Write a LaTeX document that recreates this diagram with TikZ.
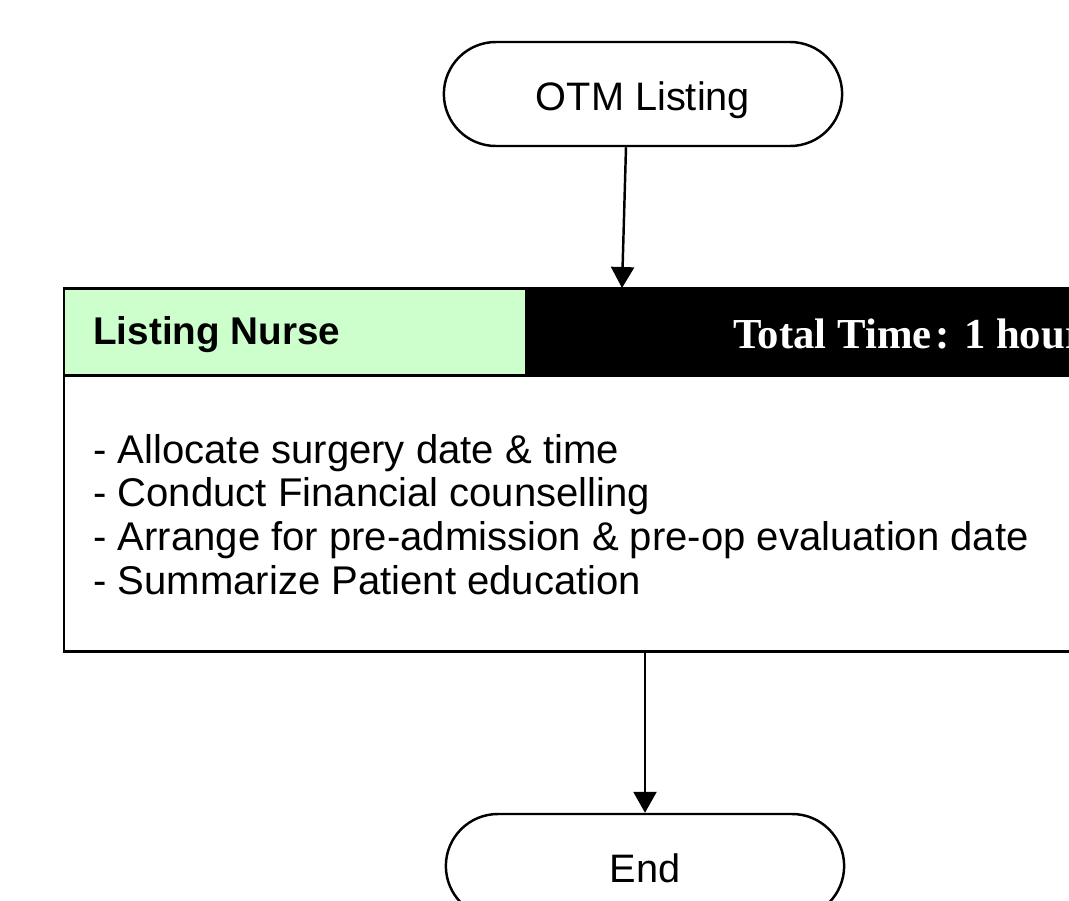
\documentclass[tikz,border=0pt]{standalone}
\usepackage{fontspec}
\setmainfont{Liberation Sans}
\newfontfamily\timesfont{Liberation Serif}
\usetikzlibrary{shapes.misc,arrows.meta}
\definecolor{nursegreen}{HTML}{CCFFCC}

\tikzset{
    terminal/.style={draw, line width=1.4pt, shape=rounded rectangle, minimum width=8.2cm, minimum height=2.08cm, text height=0.8cm, text depth=0.15cm, font=\fontsize{22.6}{26}\selectfont},
    flow/.style={line width=1.4pt, -{Triangle[length=0.42cm, width=0.46cm]}}
}

\begin{document}
\begin{tikzpicture}
    \def\boxL{1.28}
    \def\boxR{23}
    \def\boxT{-5.76}
    \def\headB{-7.5}
    \def\boxB{-13.02}
    \def\splitX{10.5}

    \useasboundingbox (0,0) rectangle (21.38,-18);
    \clip (0,0) rectangle (21.38,-18);

    % header cells
    \fill[nursegreen] (\boxL,\boxT) rectangle (\splitX,\headB);
    \fill[black] (\splitX,\boxT) rectangle (\boxR,\headB);
    \draw[line width=1.7pt] (\boxL,\boxT) coordinate (A) -- (\boxR,\boxT) -- (\boxR,\boxB) -- (\boxL,\boxB) coordinate (D) -- cycle;
    \draw[line width=1.7pt] (\boxL,\headB) -- (\boxR,\headB);

    \coordinate (hd) at (12.44,\boxT);
    \coordinate (ft) at (12.9,\boxB);

    \node (role) at (1.86,-6.7) [anchor=west, inner sep=0pt, font=\fontsize{22}{26}\selectfont\bfseries] {Listing Nurse};
    \node (time) at (14.66,-6.68) [anchor=west, inner sep=0pt, text=white, font=\fontsize{24.3}{26}\selectfont\timesfont\bfseries] {Total Time\hspace{0.1em}: 1 hour};

    \node (tasks) at (1.86,-10.29) [anchor=west, inner sep=0pt, align=left, font=\fontsize{22.8}{24.9}\selectfont] {- Allocate surgery date \& time\\- Conduct Financial counselling\\- Arrange for pre-admission \& pre-op evaluation date\\- Summarize Patient education};

    \node (otm) at (12.86,-1.88) [terminal] {OTM Listing};
    \node (end) at (12.9,-17.32) [terminal] {End};

    \draw[flow] ([xshift=-0.34cm]otm.south) -- (hd);
    \draw[flow] (ft) -- (end.north);
\end{tikzpicture}
\end{document}
